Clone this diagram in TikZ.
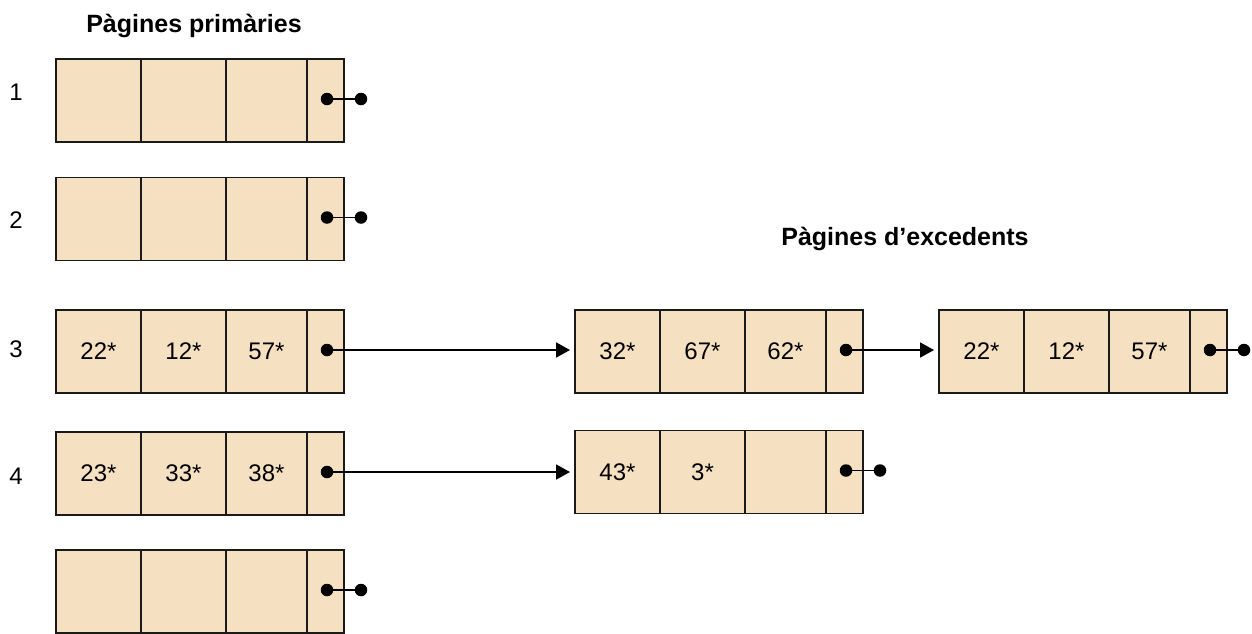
\documentclass[tikz,border=0pt]{standalone}
\usepackage{fontspec}
\setmainfont{Liberation Sans}
\usetikzlibrary{arrows.meta,calc}
\definecolor{pagefill}{HTML}{F5E1C1}
\definecolor{ink}{HTML}{1A1A1A}
\tikzset{
  cell/.style={draw=ink, fill=pagefill, line width=1.8pt, inner sep=0pt, outer sep=0pt,
    minimum height=83pt, anchor=north west, font=\fontsize{24}{28}\selectfont},
  dotnode/.style={circle, fill=black, draw=none, inner sep=0pt, minimum size=12.5pt},
  link/.style={draw=black, line width=1.8pt},
  arrowlink/.style={link, -{Triangle[length=14pt,width=15pt]}, shorten >=5pt},
  rowlabel/.style={anchor=base, inner sep=0pt, font=\fontsize{24}{28}\selectfont},
  titlelabel/.style={anchor=base, inner sep=0pt, font=\fontsize{25}{30}\selectfont\bfseries},
}
\newcommand{\pagerow}[6]{%
  \node[cell, minimum width=85pt] (#1a) at (#2,#3) {#4};
  \node[cell, minimum width=85pt] (#1b) at (#1a.north east) {#5};
  \node[cell, minimum width=81pt] (#1c) at (#1b.north east) {#6};
  \node[cell, minimum width=37pt] (#1d) at (#1c.north east) {};
  \node[dotnode] (#1p) at ([xshift=1.5pt,yshift=1.5pt]#1d.center) {};
}
\newcommand{\nullptr}[1]{%
  \node[dotnode] (#1n) at ([xshift=34pt]#1p.center) {};
  \draw[link] (#1p.center) -- (#1n.center);
}
\begin{document}
\begin{tikzpicture}[x=1pt,y=-1pt]
\useasboundingbox (0,0) rectangle (1252,633);

\node[titlelabel] (tprim) at (194,32) {Pàgines primàries};
\node[titlelabel] (texc) at (905,245) {Pàgines d’excedents};

\node[rowlabel] (l1) at (16,100.5) {1};
\node[rowlabel] (l2) at (16,228.5) {2};
\node[rowlabel] (l3) at (16,357) {3};
\node[rowlabel] (l4) at (16,484.5) {4};

\pagerow{ra}{56}{59}{}{}{}
\nullptr{ra}
\pagerow{rb}{56}{177.5}{}{}{}
\nullptr{rb}
\pagerow{rc}{56}{310}{22*}{12*}{57*}
\pagerow{rd}{56}{432}{23*}{33*}{38*}
\pagerow{re}{56}{550}{}{}{}
\nullptr{re}

\pagerow{oa}{575}{310}{32*}{67*}{62*}
\pagerow{ob}{939}{310}{22*}{12*}{57*}
\nullptr{ob}
\pagerow{oc}{575}{430.5}{43*}{3*}{}
\nullptr{oc}

\draw[arrowlink] (rcp.center) -- (rcp.center -| oaa.west);
\draw[arrowlink] (oap.center) -- (oap.center -| oba.west);
\draw[arrowlink] (rdp.center) -- (rdp.center -| oca.west);
\end{tikzpicture}
\end{document}
